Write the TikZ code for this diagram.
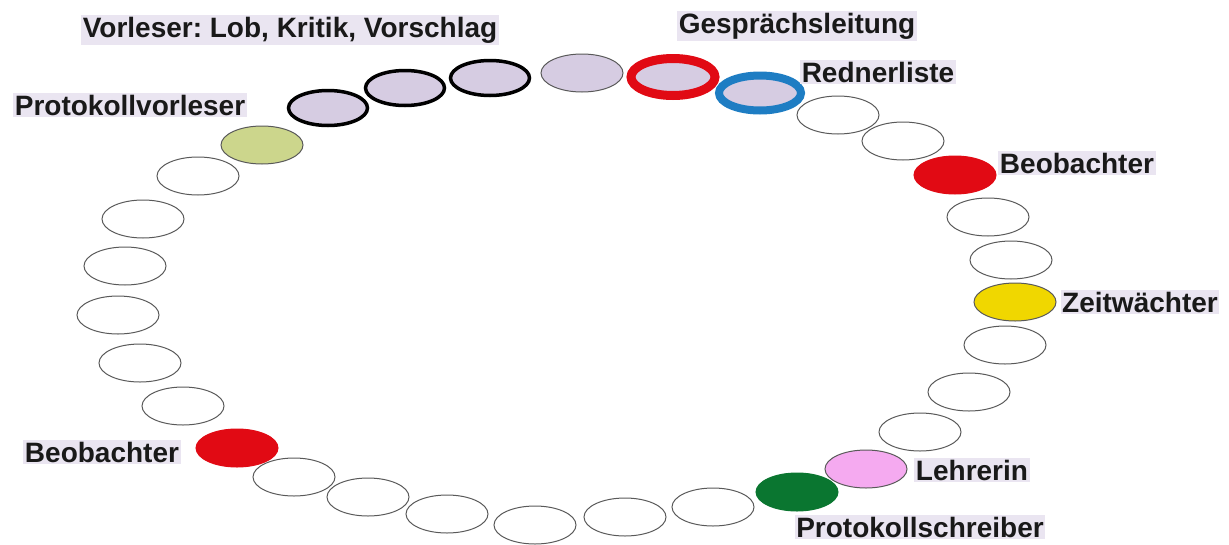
\documentclass[tikz,border=0pt]{standalone}
\usepackage{fontspec}
\setmainfont{Liberation Sans}
\usetikzlibrary{shapes.geometric}
\frenchspacing
\definecolor{lav}{RGB}{214,204,226}
\definecolor{olive}{RGB}{204,214,140}
\definecolor{redf}{RGB}{225,10,20}
\definecolor{yel}{RGB}{240,215,0}
\definecolor{pinkf}{RGB}{245,170,240}
\definecolor{greenf}{RGB}{10,118,48}
\definecolor{bluer}{RGB}{30,125,195}
\definecolor{lbg}{RGB}{234,229,241}
\begin{document}
\begin{tikzpicture}[x=1pt,y=-1pt,
  seat/.style={ellipse,draw=black!65,line width=1pt,minimum width=82pt,minimum height=38pt,inner sep=0pt},
  reader/.style={seat,fill=lav,draw=black,line width=3.5pt,minimum width=79pt,minimum height=35pt},
  lbl/.style={font=\bfseries\fontsize{28}{30}\selectfont,fill=lbg,inner sep=1.5pt,text=black!90}]
\useasboundingbox (0,0) rectangle (1229,544);
% top arc
\node[seat,fill=olive] (s1) at (262,145) {};
\node[reader] (s2) at (328,108) {};
\node[reader] (s3) at (405,88) {};
\node[reader] (s4) at (490,78) {};
\node[seat,fill=lav] (s5) at (582,73) {};
\node[seat,fill=lav,draw=redf,line width=9pt,minimum width=84pt,minimum height=37pt] (s6) at (673,77) {};
\node[seat,fill=lav,draw=bluer,line width=8pt,minimum width=82pt,minimum height=35pt] (s7) at (760,93) {};
\node[seat] (s8) at (838,115) {};
\node[seat] (s9) at (903,141) {};
\node[seat,fill=redf,draw=redf] (s10) at (955,175) {};
\node[seat] (s11) at (988,217) {};
\node[seat] (s12) at (1011,260) {};
\node[seat,fill=yel] (s13) at (1015,302) {};
\node[seat] (s14) at (1005,345) {};
\node[seat] (s15) at (969,392) {};
\node[seat] (s16) at (920,432) {};
\node[seat,fill=pinkf] (s17) at (866,469) {};
\node[seat,fill=greenf,draw=greenf] (s18) at (797,492) {};
\node[seat] (s19) at (713,507) {};
\node[seat] (s20) at (625,517) {};
\node[seat] (s21) at (535,525) {};
\node[seat] (s22) at (447,514) {};
\node[seat] (s23) at (368,497) {};
\node[seat] (s24) at (294,477) {};
\node[seat,fill=redf,draw=redf] (s25) at (237,448) {};
\node[seat] (s26) at (183,406) {};
\node[seat] (s27) at (140,363) {};
\node[seat] (s28) at (118,315) {};
\node[seat] (s29) at (125,266) {};
\node[seat] (s30) at (143,219) {};
\node[seat] (s31) at (198,176) {};
% labels
\node[lbl] (l1) at (290,30) {Vorleser: Lob, Kritik, Vorschlag};
\node[lbl] (l2) at (797,26) {Gesprächsleitung};
\node[lbl] (l3) at (878,72) {Rednerliste};
\node[lbl] (l4) at (130,105) {Protokollvorleser};
\node[lbl] (l5) at (1077,163) {Beobachter};
\node[lbl] (l6) at (1140,302) {Zeitwächter};
\node[lbl] (l7) at (972,470) {Lehrerin};
\node[lbl] (l8) at (920,527) {Protokollschreiber};
\node[lbl] (l9) at (102,452) {Beobachter};
\end{tikzpicture}
\end{document}
